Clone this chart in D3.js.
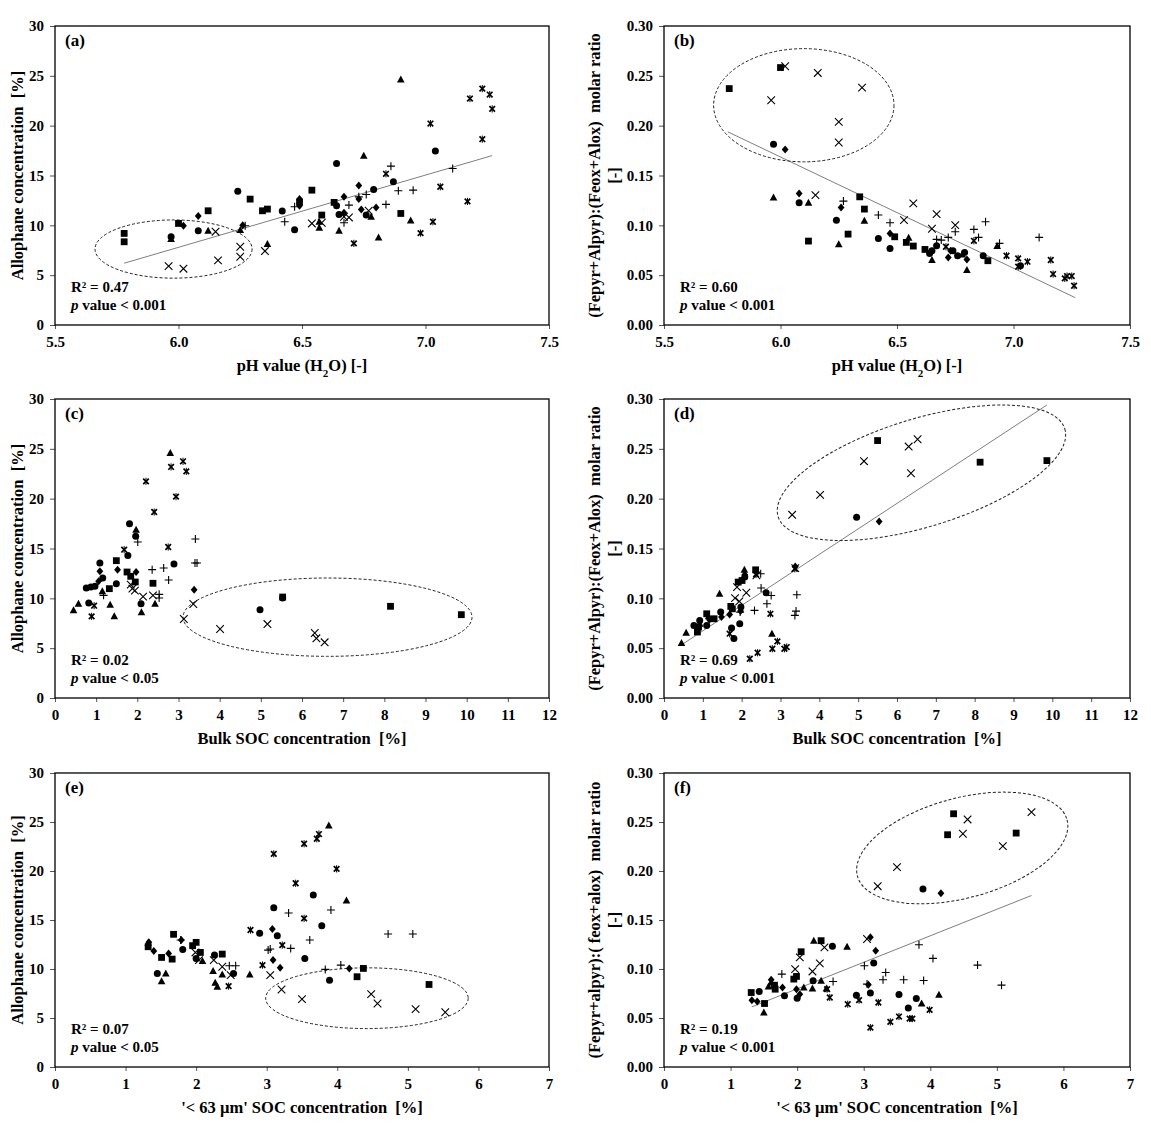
<!DOCTYPE html>
<html>
<head>
<meta charset="UTF-8">
<title>Allophane and Fepyr+Alpyr ratio scatter panels</title>
<script src="https://d3js.org/d3.v7.min.js"></script>
<style>
  body { margin: 0; background: #fff; }
  text { font-family: "Liberation Serif", "Times New Roman", serif; font-weight: bold; fill: #000; }
</style>
</head>
<body>
<svg width="1151" height="1130"></svg>
<script>
// points, [x, y] per marker type
const panelA = {
  square: [[5.78,9.19],[5.78,8.35],[6.00,10.19],[6.12,11.46],[6.29,12.63],[6.34,11.46],[6.36,11.63],[6.49,12.33],[6.54,13.53],[6.58,11.03],[6.63,12.30],[6.90,11.19]],
  circle: [[5.97,8.85],[6.08,9.45],[6.24,13.43],[6.42,11.43],[6.47,9.56],[6.64,16.20],[6.64,11.96],[6.65,11.09],[6.76,11.03],[6.79,13.60],[6.87,14.37],[7.04,17.47]],
  diamond: [[6.02,9.96],[6.08,10.93],[6.26,10.02],[6.49,12.63],[6.49,11.96],[6.67,12.86],[6.67,11.26],[6.73,14.00],[6.73,12.63],[6.74,11.59],[6.80,11.79]],
  triangle: [[5.97,8.62],[6.12,9.45],[6.25,9.52],[6.36,8.12],[6.57,10.36],[6.57,9.76],[6.65,9.45],[6.75,16.97],[6.78,10.86],[6.81,8.79],[6.90,24.62],[6.94,10.49]],
  cross: [[5.96,5.91],[6.02,5.65],[6.15,9.36],[6.16,6.48],[6.25,7.85],[6.25,6.85],[6.35,7.42],[6.54,10.19],[6.58,10.26],[6.67,10.86],[6.69,10.79],[6.77,11.46]],
  star: [[6.71,8.19],[6.84,15.17],[6.98,9.22],[7.02,20.21],[7.03,10.36],[7.06,13.87],[7.17,12.40],[7.18,22.72],[7.23,23.72],[7.23,18.64],[7.26,23.12],[7.27,21.68]],
  plus: [[6.27,9.96],[6.43,10.36],[6.47,11.86],[6.67,10.26],[6.69,12.03],[6.73,12.86],[6.76,13.10],[6.84,12.10],[6.86,15.94],[6.89,13.47],[6.95,13.53],[7.11,15.70]]
};
const panelB = {
  square: [[5.78,0.2372],[6.00,0.2583],[6.12,0.0842],[6.29,0.0912],[6.34,0.1286],[6.36,0.1163],[6.49,0.0885],[6.54,0.0829],[6.57,0.0792],[6.62,0.0758],[6.89,0.0645]],
  circle: [[5.97,0.1814],[6.08,0.1226],[6.24,0.1052],[6.42,0.0869],[6.47,0.0768],[6.64,0.0718],[6.65,0.0745],[6.67,0.0795],[6.74,0.0745],[6.76,0.0695],[6.79,0.0728],[6.87,0.0695],[7.03,0.0595]],
  diamond: [[6.02,0.1761],[6.08,0.1320],[6.26,0.1179],[6.47,0.0919],[6.72,0.0678],[6.73,0.0745],[6.80,0.0658]],
  triangle: [[5.97,0.1280],[6.12,0.1226],[6.25,0.0809],[6.36,0.1046],[6.55,0.0875],[6.65,0.0652],[6.78,0.0708],[6.80,0.0551],[6.93,0.0792]],
  cross: [[5.96,0.2255],[6.02,0.2596],[6.16,0.2529],[6.15,0.1303],[6.25,0.2038],[6.25,0.1831],[6.35,0.2382],[6.53,0.1052],[6.57,0.1220],[6.65,0.0966],[6.67,0.1113],[6.75,0.1002]],
  star: [[6.71,0.0785],[6.83,0.0845],[6.97,0.0695],[7.02,0.0668],[7.02,0.0585],[7.06,0.0635],[7.16,0.0652],[7.17,0.0511],[7.22,0.0468],[7.23,0.0491],[7.25,0.0491],[7.26,0.0394]],
  plus: [[6.27,0.1243],[6.42,0.1103],[6.47,0.1026],[6.67,0.0859],[6.69,0.0852],[6.72,0.0879],[6.75,0.0936],[6.83,0.0959],[6.85,0.0879],[6.88,0.1036],[6.94,0.0819],[7.11,0.0879]]
};
const panelC = {
  square: [[1.32,10.97],[1.49,13.78],[1.75,12.64],[1.84,12.21],[1.95,11.64],[2.38,11.51],[5.53,10.13],[8.15,9.20],[9.87,8.36]],
  circle: [[0.76,11.04],[0.87,11.14],[0.97,11.20],[0.82,9.53],[1.09,13.55],[1.16,12.04],[1.49,11.47],[1.77,14.31],[1.81,17.49],[1.96,16.22],[2.09,9.46],[2.89,13.44],[4.98,8.86],[5.53,10.03]],
  diamond: [[1.06,11.71],[1.09,12.71],[1.52,12.88],[1.97,12.64],[3.38,10.87]],
  triangle: [[0.45,8.80],[0.57,9.46],[1.15,10.70],[1.34,9.36],[1.44,8.19],[1.97,16.89],[2.10,8.60],[2.43,9.46],[2.80,24.58]],
  cross: [[1.84,11.37],[1.88,10.97],[1.94,10.77],[2.14,10.17],[2.38,10.30],[3.13,7.93],[3.36,9.43],[4.01,6.92],[5.16,7.42],[6.31,6.52],[6.35,5.99],[6.55,5.59]],
  star: [[0.89,8.19],[0.95,9.26],[1.68,14.88],[2.21,21.74],[2.41,18.66],[2.75,15.15],[2.82,23.18],[2.94,20.20],[3.11,23.75],[3.19,22.74]],
  plus: [[1.18,10.30],[2.01,15.65],[2.36,12.88],[2.64,13.04],[2.76,11.84],[2.53,10.40],[2.53,10.03],[3.41,15.95],[3.40,13.55],[3.45,13.55]]
};
const panelD = {
  square: [[0.86,0.0662],[0.89,0.0712],[1.10,0.0845],[1.29,0.0795],[1.72,0.0919],[1.76,0.0895],[1.91,0.1163],[2.01,0.1179],[2.36,0.1286],[5.50,0.2583],[8.14,0.2366],[9.86,0.2382]],
  circle: [[0.77,0.0728],[0.92,0.0778],[1.10,0.0728],[1.46,0.0862],[1.74,0.0702],[1.80,0.0598],[1.95,0.0745],[1.98,0.0912],[2.08,0.1213],[2.63,0.1056],[4.96,0.1814]],
  diamond: [[1.17,0.0785],[1.48,0.0812],[1.69,0.0839],[1.97,0.0872],[2.08,0.1236],[3.38,0.1320],[5.54,0.1771]],
  triangle: [[0.45,0.0551],[0.57,0.0655],[0.92,0.0745],[1.15,0.0819],[1.43,0.1046],[2.07,0.1286],[2.78,0.0645]],
  cross: [[1.83,0.1002],[1.88,0.1113],[1.94,0.0969],[2.12,0.1056],[2.38,0.1230],[3.30,0.1838],[3.38,0.1303],[4.02,0.2038],[5.15,0.2376],[6.30,0.2523],[6.53,0.2596],[6.36,0.2255]],
  star: [[1.69,0.0645],[2.21,0.0394],[2.37,0.1240],[2.41,0.0454],[2.74,0.0845],[2.79,0.0494],[2.92,0.0568],[3.10,0.0494],[3.16,0.0511],[3.37,0.1296]],
  plus: [[1.96,0.0862],[2.33,0.0879],[2.49,0.1246],[2.50,0.1103],[2.65,0.0946],[2.76,0.1029],[3.37,0.0829],[3.40,0.0872],[3.42,0.1036]]
};
const panelE = {
  square: [[1.32,12.27],[1.51,11.18],[1.66,11.01],[1.68,13.54],[1.95,12.38],[2.00,12.72],[2.06,11.69],[2.37,11.52],[4.28,9.21],[4.37,10.06],[5.30,8.42]],
  circle: [[1.45,9.55],[1.81,12.00],[2.00,11.08],[2.26,11.42],[2.53,9.55],[2.90,13.64],[3.10,16.26],[3.15,13.40],[3.54,11.08],[3.66,17.56],[3.78,14.42],[3.89,8.86]],
  diamond: [[1.33,12.72],[1.40,11.83],[1.61,11.59],[1.79,12.96],[3.08,14.08],[3.09,10.91],[3.19,10.13],[4.17,10.06]],
  triangle: [[1.32,12.68],[1.51,8.76],[1.57,9.55],[2.09,10.81],[2.24,9.79],[2.27,8.59],[2.30,8.18],[2.37,9.44],[2.76,9.44],[3.88,24.65],[4.13,16.98]],
  cross: [[1.99,11.69],[2.04,10.91],[2.25,10.91],[2.37,10.23],[2.49,9.38],[3.05,9.38],[3.21,7.91],[3.50,6.92],[4.48,7.43],[4.57,6.48],[5.11,5.90],[5.53,5.59]],
  star: [[2.46,8.25],[2.77,13.98],[2.94,10.40],[3.10,21.75],[3.22,12.44],[3.41,18.75],[3.53,22.78],[3.53,15.17],[3.71,23.29],[3.74,23.77],[3.99,20.22]],
  plus: [[1.78,12.96],[2.47,10.33],[2.56,10.33],[3.02,11.93],[3.05,12.04],[3.31,15.72],[3.34,12.10],[3.61,12.96],[3.83,9.96],[3.91,16.02],[4.05,10.40],[4.72,13.57],[5.07,13.57]]
};
const panelF = {
  square: [[1.31,0.0760],[1.51,0.0648],[1.66,0.0835],[1.67,0.0794],[1.95,0.0897],[1.99,0.0924],[2.06,0.1176],[2.36,0.1289],[4.26,0.2370],[4.35,0.2584],[5.29,0.2387]],
  circle: [[1.43,0.0771],[1.81,0.0726],[2.00,0.0702],[2.24,0.0880],[2.53,0.1231],[2.89,0.0733],[3.10,0.0754],[3.15,0.1060],[3.53,0.0740],[3.67,0.0603],[3.79,0.0699],[3.89,0.1817]],
  diamond: [[1.32,0.0682],[1.40,0.0668],[1.61,0.0890],[1.78,0.0811],[1.99,0.0794],[2.04,0.0743],[3.07,0.0839],[3.10,0.1323],[3.18,0.1186],[4.16,0.1773]],
  triangle: [[1.50,0.0556],[1.57,0.0822],[1.61,0.0863],[2.10,0.0811],[2.23,0.0801],[2.25,0.1289],[2.36,0.0880],[2.44,0.0801],[2.75,0.1227],[3.87,0.0648],[4.13,0.0736]],
  cross: [[1.97,0.0999],[2.04,0.1118],[2.23,0.0975],[2.34,0.1057],[2.41,0.1221],[3.05,0.1306],[3.21,0.1845],[3.50,0.2039],[4.49,0.2380],[4.56,0.2526],[5.09,0.2254],[5.52,0.2601]],
  star: [[2.45,0.0794],[2.49,0.0709],[2.76,0.0641],[2.93,0.0682],[3.10,0.0402],[3.22,0.0658],[3.40,0.0460],[3.53,0.0515],[3.69,0.0494],[3.73,0.0494],[3.99,0.0583]],
  plus: [[1.77,0.0948],[2.54,0.0873],[3.01,0.1033],[3.05,0.0846],[3.29,0.0890],[3.33,0.0965],[3.60,0.0890],[3.83,0.1248],[3.90,0.0883],[4.04,0.1108],[4.71,0.1040],[5.07,0.0835]]
};

// axis ticks
const pHTicks = [5.5, 6.0, 6.5, 7.0, 7.5];
const bulkTicks = d3.range(0, 13);
const fineTicks = d3.range(0, 8);
const alloTicks = [0, 5, 10, 15, 20, 25, 30];
const ratioTicks = [0, 0.05, 0.10, 0.15, 0.20, 0.25, 0.30];

// regression lines (start, end) and stats
const fitA = [[5.78, 6.2], [7.27, 17.0]];
const fitB = [[5.774, 0.1938], [7.265, 0.0274]];
const fitD = [[0.43, 0.0528], [9.86, 0.294]];
const fitF = [[1.32, 0.0614], [5.52, 0.175]];
const r2Values = ["0.47", "0.60", "0.02", "0.69", "0.07", "0.19"];
const pValues = ["< 0.001", "< 0.001", "< 0.05", "< 0.001", "< 0.05", "< 0.001"];

// dashed ellipses: centre, radii in data units, rotation (deg)
const ellA = {cx: 5.98, cy: 7.62, rx: 0.318, ry: 2.92, rot: 0};
const ellB = {cx: 6.10, cy: 0.2205, rx: 0.387, ry: 0.0568, rot: 0};
const ellC = {cx: 6.62, cy: 8.11, rx: 3.51, ry: 3.93, rot: 0};
const ellD = {cx: 6.63, cy: 0.226, rx: 3.86, ry: 0.0542, rot: -17};
const ellE = {cx: 4.42, cy: 7.02, rx: 1.435, ry: 3.10, rot: 0};
const ellF = {cx: 4.48, cy: 0.2235, rx: 1.63, ry: 0.051, rot: -15};

const leftTitle = "Allophane concentration  [%]";
const ratioTitle = "(Fepyr+Alpyr):(Feox+Alox)  molar ratio";
const ratioTitleF = "(Fepyr+alpyr):( feox+alox)  molar ratio";

const svg = d3.select("svg");

const colL = [55, 549], colR = [664, 1130];
const rows = [[26, 325], [399, 698], [773, 1067]];

const panels = [
  {lab: "(a)", pts: panelA, xr: colL, yr: rows[0], xd: [5.5, 7.5], xt: pHTicks, xf: d3.format(".1f"), yd: [0, 30], yt: alloTicks, yf: d3.format("d"), xTitle: "ph", yTitle: [leftTitle], fit: fitA, ell: ellA},
  {lab: "(b)", pts: panelB, xr: colR, yr: rows[0], xd: [5.5, 7.5], xt: pHTicks, xf: d3.format(".1f"), yd: [0, 0.3], yt: ratioTicks, yf: d3.format(".2f"), xTitle: "ph", yTitle: [ratioTitle, "[-]"], fit: fitB, ell: ellB},
  {lab: "(c)", pts: panelC, xr: colL, yr: rows[1], xd: [0, 12], xt: bulkTicks, xf: d3.format("d"), yd: [0, 30], yt: alloTicks, yf: d3.format("d"), xTitle: "Bulk SOC concentration  [%]", yTitle: [leftTitle], fit: null, ell: ellC},
  {lab: "(d)", pts: panelD, xr: colR, yr: rows[1], xd: [0, 12], xt: bulkTicks, xf: d3.format("d"), yd: [0, 0.3], yt: ratioTicks, yf: d3.format(".2f"), xTitle: "Bulk SOC concentration  [%]", yTitle: [ratioTitle, "[-]"], fit: fitD, ell: ellD},
  {lab: "(e)", pts: panelE, xr: colL, yr: rows[2], xd: [0, 7], xt: fineTicks, xf: d3.format("d"), yd: [0, 30], yt: alloTicks, yf: d3.format("d"), xTitle: "'< 63 µm' SOC concentration  [%]", yTitle: [leftTitle], fit: null, ell: ellE},
  {lab: "(f)", pts: panelF, xr: colR, yr: rows[2], xd: [0, 7], xt: fineTicks, xf: d3.format("d"), yd: [0, 0.3], yt: ratioTicks, yf: d3.format(".2f"), xTitle: "'< 63 µm' SOC concentration  [%]", yTitle: [ratioTitleF, "[-]"], fit: fitF, ell: ellF}
];

// marker drawers
const markers = {
  square: (g, x, y) => g.append("rect").attr("x", x - 3.4).attr("y", y - 3.4).attr("width", 6.8).attr("height", 6.8).attr("fill", "#000"),
  circle: (g, x, y) => g.append("circle").attr("cx", x).attr("cy", y).attr("r", 3.5).attr("fill", "#000"),
  diamond: (g, x, y) => g.append("path").attr("d", `M${x},${y - 4}L${x + 3.4},${y}L${x},${y + 4}L${x - 3.4},${y}Z`).attr("fill", "#000"),
  triangle: (g, x, y) => g.append("path").attr("d", `M${x},${y - 4}L${x + 3.8},${y + 3}L${x - 3.8},${y + 3}Z`).attr("fill", "#000"),
  cross: (g, x, y) => g.append("path").attr("d", `M${x - 3.8},${y - 3.8}L${x + 3.8},${y + 3.8}M${x - 3.8},${y + 3.8}L${x + 3.8},${y - 3.8}`).attr("stroke", "#000").attr("stroke-width", 1.1),
  star: (g, x, y) => {
    g.append("path").attr("d", `M${x - 2.8},${y - 2.8}L${x + 2.8},${y + 2.8}M${x - 2.8},${y + 2.8}L${x + 2.8},${y - 2.8}`).attr("stroke", "#000").attr("stroke-width", 1.7);
    g.append("path").attr("d", `M${x},${y - 3.6}L${x},${y + 3.6}`).attr("stroke", "#000").attr("stroke-width", 1);
  },
  plus: (g, x, y) => g.append("path").attr("d", `M${x - 4},${y}L${x + 4},${y}M${x},${y - 4}L${x},${y + 4}`).attr("stroke", "#000").attr("stroke-width", 1.1)
};

panels.forEach((p, i) => {
  const x = d3.scaleLinear().domain(p.xd).range(p.xr);
  const y = d3.scaleLinear().domain(p.yd).range([p.yr[1], p.yr[0]]);
  const g = svg.append("g");
  const [x0, x1] = p.xr, [y0, y1] = p.yr;

  // axes
  const ax = g.append("g").attr("transform", `translate(0,${y1})`)
    .call(d3.axisBottom(x).tickValues(p.xt).tickFormat(p.xf).tickSize(4).tickPadding(7));
  const ay = g.append("g").attr("transform", `translate(${x0},0)`)
    .call(d3.axisLeft(y).tickValues(p.yt).tickFormat(p.yf).tickSize(5).tickPadding(6));
  [ax, ay].forEach(a => {
    a.select(".domain").remove();
    a.selectAll("line").attr("stroke", "#555");
    a.selectAll("text").style("font-size", "15px").style("font-family", "Liberation Serif").style("font-weight", "bold");
  });

  // frame
  g.append("rect").attr("x", x0).attr("y", y0).attr("width", x1 - x0).attr("height", y1 - y0)
    .attr("fill", "none").attr("stroke", "#000").attr("stroke-width", 1.3);

  // regression line
  if (p.fit) {
    g.append("line").attr("x1", x(p.fit[0][0])).attr("y1", y(p.fit[0][1]))
      .attr("x2", x(p.fit[1][0])).attr("y2", y(p.fit[1][1]))
      .attr("stroke", "#7f7f7f").attr("stroke-width", 1);
  }

  // ellipse
  const e = p.ell;
  const ecx = x(e.cx), ecy = y(e.cy);
  g.append("ellipse").attr("cx", ecx).attr("cy", ecy)
    .attr("rx", Math.abs(x(e.cx + e.rx) - ecx)).attr("ry", Math.abs(y(e.cy + e.ry) - ecy))
    .attr("transform", `rotate(${e.rot},${ecx},${ecy})`)
    .attr("fill", "none").attr("stroke", "#222").attr("stroke-width", 1).attr("stroke-dasharray", "3,2");

  // points
  Object.keys(p.pts).forEach(k => {
    p.pts[k].forEach(d => markers[k](g, x(d[0]), y(d[1])));
  });

  // panel label
  g.append("text").attr("x", x0 + 10).attr("y", y0 + 20).style("font-size", "17px").text(p.lab);

  // stats
  g.append("text").attr("x", x0 + 16).attr("y", y1 - 33).style("font-size", "15px").text(`R² = ${r2Values[i]}`);
  const pt = g.append("text").attr("x", x0 + 16).attr("y", y1 - 15).style("font-size", "15px");
  pt.append("tspan").style("font-style", "italic").text("p");
  pt.append("tspan").text(` value ${pValues[i]}`);

  // x title
  const xt = g.append("text").attr("x", (x0 + x1) / 2).attr("y", y1 + 46)
    .attr("text-anchor", "middle").style("font-size", "16.5px").attr("xml:space", "preserve");
  if (p.xTitle === "ph") {
    xt.append("tspan").text("pH value (H");
    xt.append("tspan").attr("baseline-shift", "sub").style("font-size", "11px").text("2");
    xt.append("tspan").text("O) [-]");
  } else {
    xt.text(p.xTitle);
  }

  // y title
  const cy = (y0 + y1) / 2;
  const baseX = i % 2 === 0 ? 23 : 600;
  p.yTitle.forEach((t, j) => {
    const tx = baseX + j * 20;
    g.append("text").attr("transform", `translate(${tx},${cy}) rotate(-90)`)
      .attr("text-anchor", "middle").attr("xml:space", "preserve").style("font-size", "16.5px").text(t);
  });
});
</script>
</body>
</html>
